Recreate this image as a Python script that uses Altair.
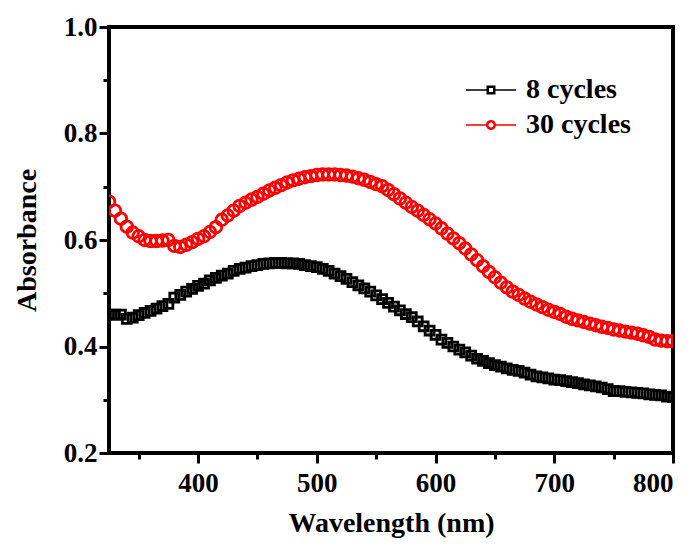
import altair as alt
import pandas as pd

wavelength = list(range(325, 801, 5))

abs_8_cycles = [
    0.460, 0.460, 0.460, 0.452, 0.454, 0.459, 0.463, 0.467, 0.471, 0.476,
    0.480, 0.492, 0.497, 0.503, 0.508, 0.514, 0.518, 0.524, 0.529, 0.533,
    0.537, 0.542, 0.546, 0.548, 0.551, 0.553, 0.555, 0.556, 0.557, 0.557,
    0.556, 0.556, 0.555, 0.553, 0.551, 0.549, 0.546, 0.542, 0.537, 0.532,
    0.527, 0.521, 0.515, 0.509, 0.503, 0.496, 0.489, 0.482, 0.475, 0.468,
    0.461, 0.455, 0.447, 0.438, 0.430, 0.422, 0.413, 0.407, 0.400, 0.394,
    0.389, 0.383, 0.377, 0.373, 0.369, 0.365, 0.362, 0.359, 0.356, 0.354,
    0.351, 0.347, 0.344, 0.342, 0.340, 0.338, 0.337, 0.335, 0.333, 0.331,
    0.329, 0.327, 0.325, 0.323, 0.320, 0.316, 0.316, 0.315, 0.314, 0.313,
    0.312, 0.310, 0.309, 0.308, 0.306, 0.305,
]

abs_30_cycles = [
    0.672, 0.655, 0.640, 0.625, 0.614, 0.607, 0.600, 0.598, 0.598, 0.599,
    0.600, 0.589, 0.587, 0.591, 0.596, 0.602, 0.607, 0.615, 0.624, 0.638,
    0.646, 0.655, 0.664, 0.670, 0.676, 0.681, 0.687, 0.693, 0.698, 0.703,
    0.708, 0.712, 0.715, 0.718, 0.720, 0.722, 0.723, 0.723, 0.723, 0.722,
    0.721, 0.719, 0.716, 0.713, 0.709, 0.705, 0.701, 0.694, 0.686, 0.678,
    0.670, 0.662, 0.655, 0.647, 0.639, 0.631, 0.622, 0.612, 0.603, 0.594,
    0.584, 0.573, 0.562, 0.551, 0.540, 0.530, 0.520, 0.511, 0.503, 0.497,
    0.490, 0.484, 0.479, 0.474, 0.469, 0.465, 0.461, 0.456, 0.452, 0.449,
    0.446, 0.443, 0.440, 0.437, 0.435, 0.432, 0.430, 0.428, 0.426, 0.424,
    0.421, 0.418, 0.413, 0.411, 0.410, 0.410,
]

series_names = ["8 cycles", "30 cycles"]
series_colors = ["#000000", "#FF0000"]
x_major = [400, 500, 600, 700, 800]
x_minor = [350, 450, 550, 650, 750]
y_major = [0.2, 0.4, 0.6, 0.8, 1.0]
y_minor = [0.3, 0.5, 0.7, 0.9]

rows = []
for name, vals in zip(series_names, [abs_8_cycles, abs_30_cycles]):
    for w, a in zip(wavelength, vals):
        rows.append({"wavelength": w, "absorbance": a, "series": name, "legend_series": name})
df = pd.DataFrame(rows)

FONT = "Liberation Serif"

x_scale = alt.Scale(domain=[325, 800], nice=False, zero=False)
y_scale = alt.Scale(domain=[0.2, 1.0], nice=False, zero=False)

points = alt.Chart(df).mark_point(filled=False, strokeWidth=2.8, opacity=1, clip=True).encode(
    x=alt.X("wavelength:Q", scale=x_scale,
            axis=alt.Axis(values=x_major, title="Wavelength (nm)", tickSize=10,
                          labelPadding=7, titlePadding=13, orient="bottom")),
    y=alt.Y("absorbance:Q", scale=y_scale,
            axis=alt.Axis(values=y_major, format=".1f", title="Absorbance", tickSize=10,
                          labelPadding=2, titlePadding=22, orient="left")),
    color=alt.Color("series:N", scale=alt.Scale(domain=series_names, range=series_colors), legend=None),
    shape=alt.Shape("series:N", scale=alt.Scale(domain=series_names, range=["square", "circle"]), legend=None),
    size=alt.Size("series:N", scale=alt.Scale(domain=series_names, range=[80, 135]), legend=None),
)

sq_path = ("M-2.5,-0.07H-0.45V0.07H-2.5Z M0.45,-0.07H2.5V0.07H0.45Z "
           "M-0.45,-0.45H0.45V0.45H-0.45Z M-0.2,-0.2V0.2H0.2V-0.2Z")
ci_path = ("M-2.5,-0.07H-0.5V0.07H-2.5Z M0.5,-0.07H2.5V0.07H0.5Z "
           "M-0.5,0A0.5,0.5 0 1,0 0.5,0A0.5,0.5 0 1,0 -0.5,0Z "
           "M-0.25,0A0.25,0.25 0 1,1 0.25,0A0.25,0.25 0 1,1 -0.25,0Z")

legend_def = alt.Legend(title=None, orient="none", legendX=368, legendY=49,
                        symbolSize=400, symbolOpacity=1, symbolStrokeWidth=0,
                        labelFont=FONT, labelFontSize=28, labelFontWeight="bold",
                        labelColor="black", labelOffset=21, rowPadding=7, padding=0)

guide = alt.Chart(df).mark_point(filled=True, opacity=0).encode(
    x=alt.X("wavelength:Q", scale=x_scale,
            axis=alt.Axis(values=x_minor, labels=False, title=None, tickSize=6,
                          domain=False, orient="bottom")),
    y=alt.Y("absorbance:Q", scale=y_scale,
            axis=alt.Axis(values=y_minor, labels=False, title=None, tickSize=6,
                          domain=False, orient="left")),
    color=alt.Color("legend_series:N", scale=alt.Scale(domain=series_names, range=series_colors),
                    legend=legend_def),
    shape=alt.Shape("legend_series:N", scale=alt.Scale(domain=series_names, range=[sq_path, ci_path]),
                    legend=legend_def),
)

chart = alt.layer(guide, points).resolve_scale(
    color="independent", shape="independent", size="independent"
).resolve_axis(
    x="independent", y="independent"
).properties(
    width=564, height=426,
    background="white",
    autosize=alt.AutoSizeParams(type="none"),
    padding={"left": 109, "top": 27, "right": 24, "bottom": 91},
).configure_view(
    stroke="black", strokeWidth=4
).configure_axis(
    domain=False, grid=False, ticks=True, tickColor="black", tickWidth=3,
    labelFont=FONT, labelFontSize=27, labelFontWeight="bold", labelColor="black",
    titleFont=FONT, titleFontSize=28, titleFontWeight="bold", titleColor="black",
)

chart.save("out.html", embed_options={"renderer": "svg", "actions": False})
